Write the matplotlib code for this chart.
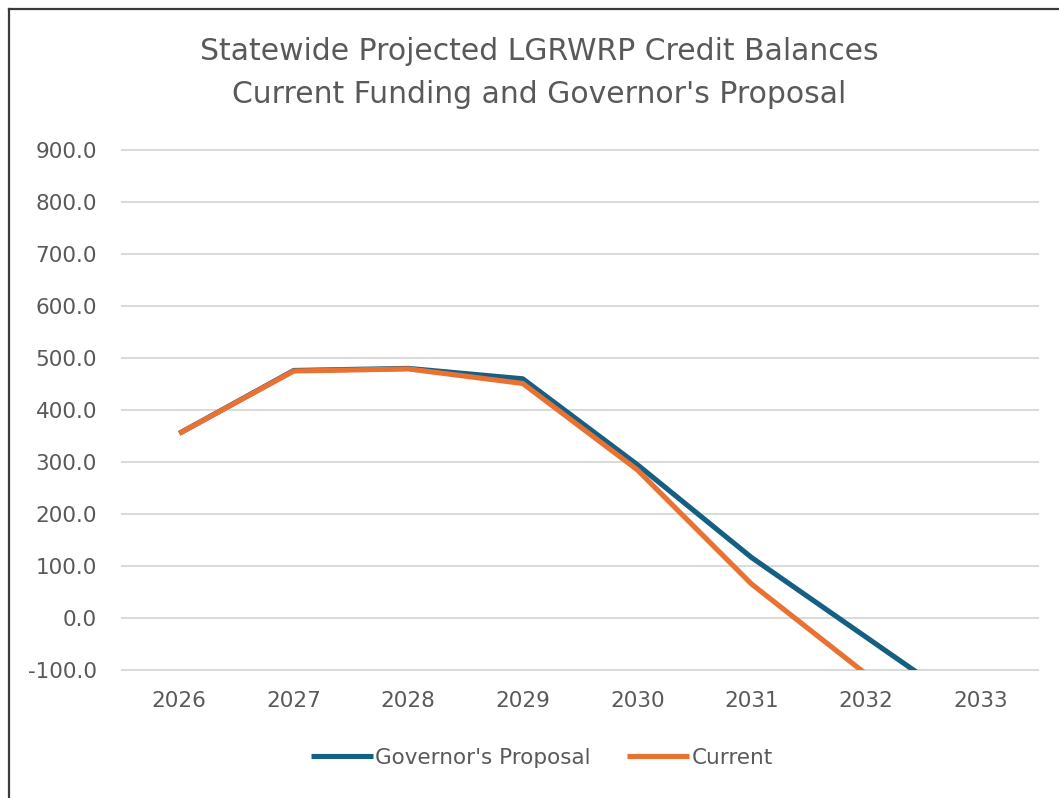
import matplotlib.pyplot as plt
from matplotlib.lines import Line2D

# values (lines run off the bottom of the axis after 2032)
years = ['2026', '2027', '2028', '2029', '2030', '2031', '2032', '2033']
governor = [355, 476, 480, 460, 295, 116, -37, -190]
current = [355, 475, 479, 451, 285, 65, -108, -280]

title_lines = ['Statewide Projected LGRWRP Credit Balances',
               "Current Funding and Governor's Proposal"]
yticks = [-100, 0, 100, 200, 300, 400, 500, 600, 700, 800, 900]

blue = '#156082'
orange = '#E97132'
grey = '#595959'

fig = plt.figure(figsize=(10.59, 7.98), dpi=100)
ax = fig.add_axes([122 / 1059, 128 / 798, 916 / 1059, 520 / 798])

x = range(len(years))
ax.plot(x, governor, color=blue, lw=3.7, solid_capstyle='butt',
        solid_joinstyle='round', label="Governor's Proposal", zorder=3)
ax.plot(x, current, color=orange, lw=3.7, solid_capstyle='butt',
        solid_joinstyle='round', label='Current', zorder=4)

ax.set_xlim(-0.5, len(years) - 0.5)
ax.set_ylim(-100, 900)
ax.set_yticks(yticks)
ax.set_yticklabels([f'{v:.1f}' for v in yticks])
ax.set_xticks(list(x))
ax.set_xticklabels(years)
ax.grid(axis='y', color='#D9D9D9', lw=1.4)
for gl in ax.get_ygridlines():
    gl.set_clip_on(False)
ax.set_axisbelow(True)
for s in ax.spines.values():
    s.set_visible(False)
ax.tick_params(length=0, labelsize=15.5, labelcolor=grey)
ax.tick_params(axis='y', pad=18)
ax.tick_params(axis='x', pad=15)

fig.text(539 / 1059, 1 - 73 / 798, '\n'.join(title_lines), ha='center',
         va='center', fontsize=21.5, color=grey, linespacing=1.62)

leg = fig.legend(loc='center', bbox_to_anchor=(542 / 1059, 1 - 758 / 798),
                 ncol=2, frameon=False, fontsize=15.5, handlelength=2.85,
                 handletextpad=0.12, columnspacing=1.7)
for t in leg.get_texts():
    t.set_color(grey)

# chart frame (left and top edges only visible in the screenshot)
fig.add_artist(Line2D([9 / 1059, 9 / 1059], [0, 1 - 9 / 798],
                      transform=fig.transFigure, color='#3a3a3a', lw=1.6))
fig.add_artist(Line2D([9 / 1059, 1], [1 - 9 / 798, 1 - 9 / 798],
                      transform=fig.transFigure, color='#3a3a3a', lw=1.6))

fig.savefig('out.png', dpi=100)
